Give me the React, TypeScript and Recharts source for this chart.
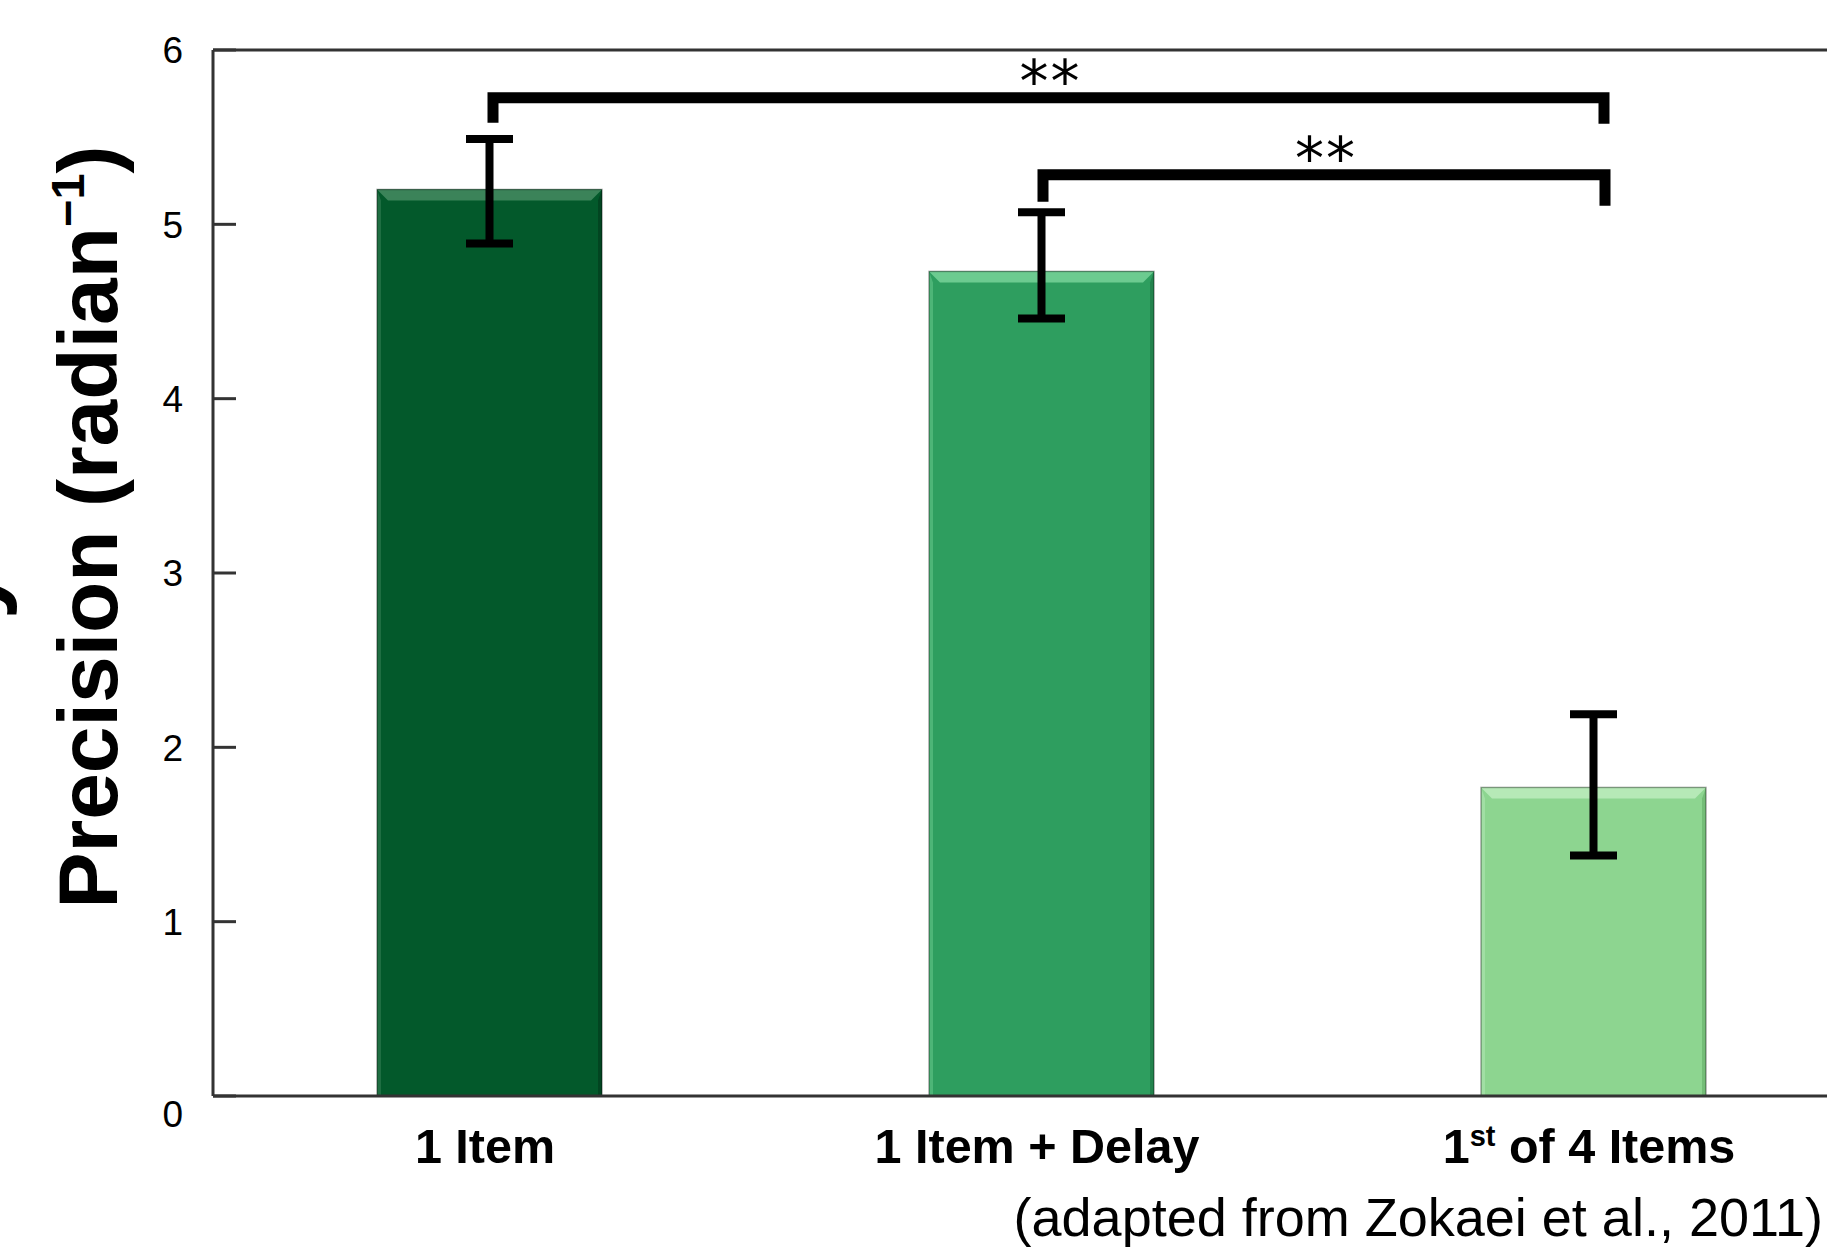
import React from "react";
import {
  ComposedChart,
  Bar,
  XAxis,
  YAxis,
  ErrorBar,
  ReferenceLine,
  Customized,
} from "recharts";

// condition means with asymmetric error (minus / plus)
const conditions = ["1 Item", "1 Item + Delay", "1st of 4 Items"];
const precision = [5.2, 4.73, 1.77];
const errMinus = [0.31, 0.27, 0.39];
const errPlus = [0.29, 0.34, 0.42];
const yTicks = [0, 1, 2, 3, 4, 5, 6];

// significance brackets
const bracketFrom = ["1 Item", "1 Item + Delay"];
const bracketTo = ["1st of 4 Items", "1st of 4 Items"];
const bracketLevel = [5.726, 5.284];
const bracketMark = ["**", "**"];

const barColors = ["#03592b", "#2e9e5f", "#8dd590"];
const bevelLight = ["#3b8359", "#6ccb90", "#b6e9b7"];
const bevelDark = ["#024521", "#23834d", "#74bd77"];

const FONT = '"Liberation Sans", Arial, Helvetica, sans-serif';
const AXIS = "#333333";

const data = conditions.map((name, i) => ({
  name,
  precision: precision[i],
  err: [errMinus[i], errPlus[i]],
}));

function BevelBar(props: any) {
  const { x, y, width, height, index } = props;
  const b = 11;
  const s = 4;
  return (
    <g>
      <rect x={x} y={y} width={width} height={height} fill={barColors[index]} />
      <polygon
        points={`${x},${y} ${x + s},${y + b} ${x + s},${y + height} ${x},${y + height}`}
        fill={bevelLight[index]}
        opacity={0.5}
      />
      <polygon
        points={`${x + width},${y} ${x + width - s},${y + b} ${x + width - s},${y + height} ${x + width},${y + height}`}
        fill={bevelDark[index]}
      />
      <polygon
        points={`${x},${y} ${x + width},${y} ${x + width - b},${y + b} ${x + b},${y + b}`}
        fill={bevelLight[index]}
      />
      <rect
        x={x}
        y={y}
        width={width}
        height={height}
        fill="none"
        stroke="rgba(0,0,0,0.35)"
        strokeWidth={1.5}
      />
    </g>
  );
}

function YTick(props: any) {
  const { x, y, payload } = props;
  const axisX = x + 30;
  const drop = payload.value === 0 ? 18 : 0;
  return (
    <g>
      <line x1={axisX} x2={axisX + 23} y1={y} y2={y} stroke={AXIS} strokeWidth={3} />
      <text
        x={x}
        y={y + drop}
        dy="0.36em"
        textAnchor="end"
        fontFamily={FONT}
        fontSize={37}
        fill="#000"
      >
        {payload.value}
      </text>
    </g>
  );
}

function XTick(props: any) {
  const { x, y, payload } = props;
  const label: string = payload.value;
  const sup = label.match(/^(\d+)(st|nd|rd|th)(.*)$/);
  return (
    <text
      x={x - 4}
      y={y + 67}
      textAnchor="middle"
      fontFamily={FONT}
      fontWeight="bold"
      fontSize={48.5}
      fill="#000"
    >
      {sup ? (
        <>
          <tspan>{sup[1]}</tspan>
          <tspan dy={-17} fontSize={29}>
            {sup[2]}
          </tspan>
          <tspan dy={17}>{sup[3]}</tspan>
        </>
      ) : (
        label
      )}
    </text>
  );
}

// bracket drawn from the reference segment's end points
function makeBracket(mark: string, legLeft: number, legRight: number, dxLeft: number, dxRight: number) {
  return (props: any) => {
    const { x1, y1, x2 } = props;
    const l = x1 + dxLeft;
    const r = x2 + dxRight;
    return (
      <g>
        <path
          d={`M${l},${y1 + legLeft} V${y1} H${r} V${y1 + legRight}`}
          fill="none"
          stroke="#000"
          strokeWidth={11}
          strokeLinejoin="miter"
        />
        <text
          x={(l + r) / 2 + 2}
          y={y1 + 4}
          textAnchor="middle"
          fontFamily='"DejaVu Sans", sans-serif'
          fontSize={58}
          letterSpacing={2}
          fill="#000"
        >
          {mark}
        </text>
      </g>
    );
  };
}

const bracketLegs = [
  [25, 26, 4, 11],
  [27, 31, 2, 12],
];

function Annotations() {
  return (
    <g>
      <text
        transform="translate(117,527) rotate(-90)"
        textAnchor="middle"
        fontFamily={FONT}
        fontWeight="bold"
        fontSize={84}
        fill="#000"
      >
        Precision (radian
        <tspan dy={-33} fontSize={47}>
          −1
        </tspan>
        <tspan dy={33}>)</tspan>
      </text>
      <text
        transform="translate(-3,566) rotate(-90)"
        textAnchor="end"
        fontFamily={FONT}
        fontWeight="bold"
        fontSize={96}
        fill="#000"
      >
        Memory
      </text>
      <text
        x={1823}
        y={1236}
        textAnchor="end"
        fontFamily={FONT}
        fontSize={54}
        fill="#000"
      >
        (adapted from Zokaei et al., 2011)
      </text>
    </g>
  );
}

export default function App() {
  return (
    <div
      style={{
        position: "fixed",
        left: 0,
        top: 0,
        width: 1827,
        height: 1250,
        overflow: "hidden",
        background: "#fff",
      }}
    >
      <ComposedChart
        width={1880}
        height={1250}
        data={data}
        margin={{ top: 50, right: 11, left: 0, bottom: 94 }}
      >
        <XAxis
          dataKey="name"
          height={60}
          axisLine={{ stroke: AXIS, strokeWidth: 3 }}
          tickLine={false}
          tickSize={0}
          tickMargin={0}
          tick={<XTick />}
          interval={0}
        />
        <YAxis
          width={213}
          domain={[0, 6]}
          ticks={yTicks}
          axisLine={{ stroke: AXIS, strokeWidth: 3 }}
          tickLine={false}
          tickSize={0}
          tickMargin={30}
          tick={<YTick />}
          interval={0}
        />
        <ReferenceLine y={6} stroke={AXIS} strokeWidth={3} />
        <Bar
          dataKey="precision"
          barSize={225}
          shape={<BevelBar />}
          isAnimationActive={false}
        >
          <ErrorBar
            dataKey="err"
            width={23.5}
            stroke="#000"
            strokeWidth={8}
            isAnimationActive={false}
          />
        </Bar>
        {bracketFrom.map((from, i) => (
          <ReferenceLine
            key={i}
            segment={[
              { x: from, y: bracketLevel[i] },
              { x: bracketTo[i], y: bracketLevel[i] },
            ]}
            shape={makeBracket(
              bracketMark[i],
              bracketLegs[i][0],
              bracketLegs[i][1],
              bracketLegs[i][2],
              bracketLegs[i][3]
            )}
          />
        ))}
        <Customized component={Annotations} />
      </ComposedChart>
    </div>
  );
}
